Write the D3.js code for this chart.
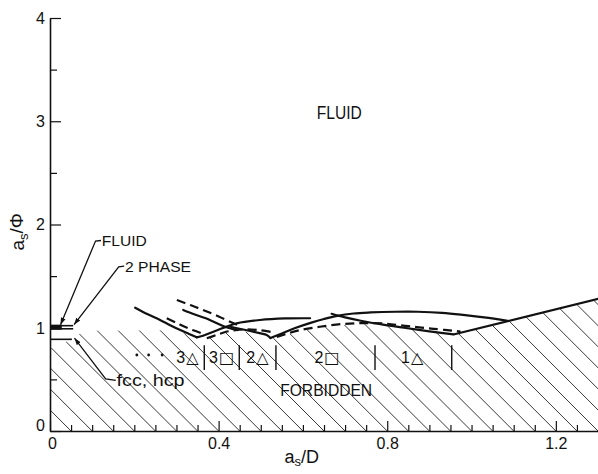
<!DOCTYPE html>
<html><head><meta charset="utf-8">
<script src="https://cdn.jsdelivr.net/npm/d3@7"></script>
<style>
body{margin:0;background:#fff}
svg{display:block}
text{font-family:"Liberation Sans",Arial,Helvetica,sans-serif;fill:#111}
</style>
</head><body>
<svg id="c" width="598" height="474"></svg>
<script>
// ---- data (a_s/D , a_s/Phi) ----
const xTickValues = [0, 0.4, 0.8, 1.2];
const xTickLabels = ["0", "0.4", "0.8", "1.2"];
const yTickValues = [0, 1, 2, 3, 4];
const yTickLabels = ["0", "1", "2", "3", "4"];

// solid curves
const melt3Tri  = [[0.202,1.194],[0.232,1.13],[0.261,1.075],[0.285,1.025],[0.309,0.978],[0.33,0.94],[0.348,0.907]];
const melt3Sq   = [[0.316,1.172],[0.342,1.13],[0.368,1.094],[0.392,1.05],[0.415,1.01],[0.444,0.978]];
const arc3Sq    = [[0.348,0.907],[0.363,0.922],[0.392,0.969],[0.443,1.043],[0.498,1.075],[0.558,1.09],[0.617,1.092]];
const line2Tri  = [[0.428,1.01],[0.45,0.99],[0.475,0.969],[0.50,0.945],[0.514,0.93],[0.523,0.90]];
const arc2Sq    = [[0.523,0.90],[0.55,0.945],[0.58,0.995],[0.62,1.05],[0.65,1.085],[0.681,1.115],[0.72,1.138],[0.76,1.148],[0.82,1.155],[0.872,1.155],[0.93,1.145],[0.98,1.125],[1.03,1.1],[1.086,1.067]];
const line1Tri  = [[0.668,1.135],[0.70,1.10],[0.74,1.065],[0.79,1.03],[0.84,1.0],[0.90,0.965],[0.957,0.935]];
const edgeRight = [[0.957,0.935],[1.31,1.29]];
// dashed curves
const dash3TriUp  = [[0.301,1.269],[0.333,1.22],[0.363,1.172],[0.40,1.11],[0.434,1.046],[0.451,1.017]];
const dash3TriLow = [[0.277,1.092],[0.30,1.048],[0.321,1.007],[0.34,0.975],[0.360,0.946]];
const dash2Tri    = [[0.372,0.898],[0.395,0.93],[0.416,0.959],[0.44,0.976],[0.467,0.985],[0.50,0.975],[0.525,0.958]];
const dash2Sq     = [[0.538,0.91],[0.56,0.94],[0.594,0.978],[0.64,1.01],[0.69,1.035],[0.74,1.045],[0.79,1.042],[0.85,1.015],[0.91,0.99],[0.974,0.963]];
// short lines at the wall
const fluidBar   = [[0,1.005],[0.028,1.005]];
const phaseTop   = [[0,1.02],[0.055,1.02]];
const phaseBot   = [[0,0.99],[0.055,0.99]];
const fccLine    = [[0,0.888],[0.052,0.888]];
// forbidden region outline (top edge)
const forbiddenEdge = [[0,0.80],[0.03,0.84],[0.06,0.93],[0.10,0.97],[0.30,0.975],[0.348,0.9],[0.372,0.892],[0.416,0.95],[0.44,0.965],[0.475,0.96],[0.514,0.922],[0.523,0.895],[0.538,0.9],[0.594,0.97],[0.64,1.0],[0.69,1.025],[0.74,1.036],[0.77,1.035],[0.79,1.022],[0.84,0.992],[0.90,0.958],[0.957,0.928],[1.31,1.283]];
const hatchStep = 0.05;

// phase labels
const phaseLabels = [
  {n:"3", s:"\u25B3", x:0.326},
  {n:"3", s:"\u25A1", x:0.407},
  {n:"2", s:"\u25B3", x:0.492},
  {n:"2", s:"\u25A1", x:0.657},
  {n:"1", s:"\u25B3", x:0.859}
];
const phaseLabelY = 0.717;
const separators = [0.366, 0.449, 0.536, 0.771, 0.953];
const dots = [0.206, 0.234, 0.266];

// ---- scales ----
const svg = d3.select("#c");
const x = d3.scaleLinear().domain([0, 1.3]).range([50, 598]);
const y = d3.scaleLinear().domain([0, 4]).range([431, 18]);
const line = d3.line().x(d => x(d[0])).y(d => y(d[1]));
const curve = d3.line().x(d => x(d[0])).y(d => y(d[1])).curve(d3.curveCatmullRom.alpha(0.5));

const defs = svg.append("defs");
defs.append("marker").attr("id","arr").attr("viewBox","0 0 10 10").attr("refX",10).attr("refY",5)
  .attr("markerWidth",7).attr("markerHeight",7).attr("orient","auto-start-reverse").attr("markerUnits","userSpaceOnUse")
  .append("path").attr("d","M0,1.5L10,5L0,8.5Z").attr("fill","#111");

// clip of forbidden region
const poly = [[0,0]].concat(forbiddenEdge).concat([[1.31,0]]);
defs.append("clipPath").attr("id","forb").append("path")
  .attr("d", line(poly) + "Z");

// hatch lines (45 deg, one through every x tick)
const hatchG = svg.append("g").attr("clip-path","url(#forb)");
d3.range(0, 1.9, hatchStep).forEach(v => {
  const x0 = x(v), y0 = y(0);
  hatchG.append("line").attr("x1", x0).attr("y1", y0).attr("x2", x0 - 700).attr("y2", y0 - 700)
    .attr("stroke","#222").attr("stroke-width",0.9);
});

// axes
const minorY = d3.range(0.5, 4, 1);
svg.append("g").attr("transform","translate(50,0)")
  .call(d3.axisLeft(y).tickValues(minorY).tickSize(-7).tickSizeOuter(0).tickFormat(""))
  .call(g => g.select(".domain").remove());
const yAx = svg.append("g").attr("transform","translate(50,0)")
  .call(d3.axisLeft(y).tickValues(yTickValues).tickSize(-11).tickSizeOuter(0).tickPadding(5)
    .tickFormat((d,i) => yTickLabels[i]));
yAx.selectAll("text").attr("font-size",16).attr("font-family","Liberation Sans, Arial, sans-serif")
  .attr("dy", d => d === 0 ? "-0.05em" : "0.34em");

const minorX = d3.range(0.05, 1.3, 0.05).filter(v => Math.abs(v/0.4 - Math.round(v/0.4)) > 1e-6);
svg.append("g").attr("transform","translate(0,431)")
  .call(d3.axisBottom(x).tickValues(minorX).tickSize(-6).tickSizeOuter(0).tickFormat(""))
  .call(g => g.select(".domain").remove());
const xAx = svg.append("g").attr("transform","translate(0,431)")
  .call(d3.axisBottom(x).tickValues(xTickValues).tickSize(-10).tickSizeOuter(0).tickPadding(7)
    .tickFormat((d,i) => xTickLabels[i]));
xAx.selectAll("text").attr("font-size",16).attr("font-family","Liberation Sans, Arial, sans-serif")
  .attr("dx", d => d === 0 ? "2" : "0");
svg.selectAll(".domain").attr("stroke","#111").attr("stroke-width",1.6);
svg.selectAll(".tick line").attr("stroke","#111").attr("stroke-width",1.2);

// curves
const solid = [melt3Tri, melt3Sq, arc3Sq, line2Tri, arc2Sq, line1Tri];
solid.forEach(c => svg.append("path").attr("d", curve(c)).attr("fill","none")
  .attr("stroke","#111").attr("stroke-width",2.2).attr("stroke-linecap","round"));
svg.append("path").attr("d", line(edgeRight)).attr("fill","none").attr("stroke","#111").attr("stroke-width",2.2);
const dashed = [dash3TriUp, dash3TriLow, dash2Tri, dash2Sq];
dashed.forEach(c => svg.append("path").attr("d", curve(c)).attr("fill","none")
  .attr("stroke","#111").attr("stroke-width",2.2).attr("stroke-dasharray","9,5"));

// wall lines
svg.append("path").attr("d", line(fluidBar)).attr("stroke","#111").attr("stroke-width",5);
[phaseTop, phaseBot, fccLine].forEach(c => svg.append("path").attr("d", line(c))
  .attr("stroke","#111").attr("stroke-width",1.6));

// separators
separators.forEach(v => svg.append("line").attr("x1",x(v)).attr("x2",x(v))
  .attr("y1",y(0.83)).attr("y2",y(0.59)).attr("stroke","#111").attr("stroke-width",1.4));

// phase labels
phaseLabels.forEach(p => {
  const t = svg.append("text").attr("x", x(p.x)).attr("y", y(phaseLabelY)).attr("dy","0.36em")
    .attr("text-anchor","middle").attr("font-size",16);
  t.append("tspan").text(p.n);
  t.append("tspan").attr("font-family","DejaVu Sans, sans-serif").attr("font-size",16).attr("dx","1").text(p.s);
});
dots.forEach(v => svg.append("circle").attr("cx",x(v)).attr("cy",y(0.736)).attr("r",1.4).attr("fill","#111"));

// text labels
function label(txt, vx, vy, size, len, anchor) {
  return svg.append("text").attr("x", x(vx)).attr("y", y(vy)).attr("dy","0.36em")
    .attr("text-anchor", anchor || "start").attr("font-size", size)
    .attr("textLength", len).attr("lengthAdjust","spacingAndGlyphs").text(txt);
}
label("FLUID", 0.633, 3.08, 18, 45);
label("FORBIDDEN", 0.546, 0.397, 16, 92);
label("FLUID", 0.123, 1.845, 15, 45);
label("2 PHASE", 0.178, 1.597, 15, 66);
label("fcc, hcp", 0.158, 0.49, 16, 68);

// leaders
const leaders = [
  [[0.121,1.845],[0.108,1.84],[0.025,1.03]],
  [[0.176,1.597],[0.163,1.59],[0.057,1.03]],
  [[0.156,0.49],[0.132,0.505],[0.058,0.9]]
];
leaders.forEach(l => svg.append("path").attr("d", line(l)).attr("fill","none")
  .attr("stroke","#111").attr("stroke-width",1.3).attr("marker-end","url(#arr)"));

// axis titles
const xt = svg.append("text").attr("x", x(0.597)).attr("y", 463)
  .attr("text-anchor","middle").attr("font-size",18);
xt.append("tspan").text("a");
xt.append("tspan").attr("font-size",13).attr("dy","3").text("s");
xt.append("tspan").attr("dy","-3").text("/D");

const yt = svg.append("text").attr("transform","translate(17," + y(1.93) + ") rotate(-90)")
  .attr("text-anchor","middle").attr("dy","0.36em").attr("font-size",19);
yt.append("tspan").text("a");
yt.append("tspan").attr("font-size",13).attr("dy","0.3em").text("s");
yt.append("tspan").attr("dy","-0.25em").text("/\u03A6");
</script>
</body></html>
